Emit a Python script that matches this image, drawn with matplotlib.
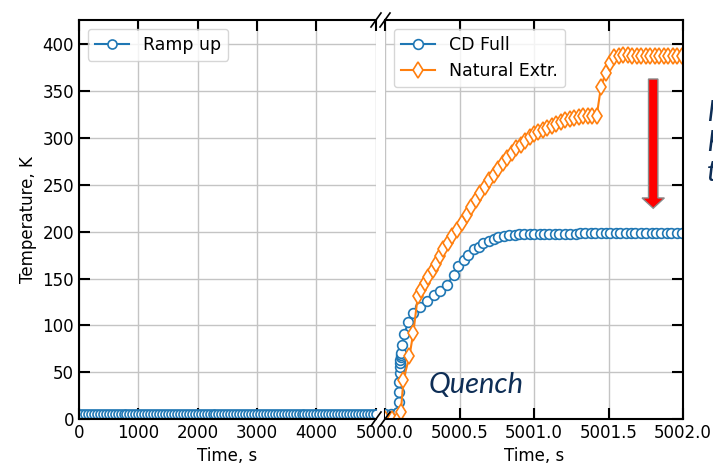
import numpy as np
import matplotlib
matplotlib.use('Agg')
import matplotlib.pyplot as plt
from matplotlib.patches import FancyArrow

# ramp up phase, temperature stays at the operating level
ramp_time = list(range(0, 5001, 50))
ramp_temp = [5.0] * len(ramp_time)

# quench phase, CD full discharge
cd_time = [5000.00, 5000.04, 5000.08, 5000.090, 5000.092, 5000.094, 5000.096, 5000.098,
           5000.100, 5000.102, 5000.104, 5000.106, 5000.108, 5000.110, 5000.115,
           5000.13, 5000.157, 5000.19, 5000.236, 5000.28, 5000.326, 5000.37, 5000.415,
           5000.46, 5000.49, 5000.53, 5000.56, 5000.595, 5000.63, 5000.66, 5000.70,
           5000.73, 5000.76, 5000.80, 5000.83, 5000.87, 5000.90, 5000.93, 5000.97,
           5001.00, 5001.04, 5001.07, 5001.10, 5001.14, 5001.17, 5001.21, 5001.24,
           5001.28, 5001.31, 5001.34, 5001.38, 5001.41, 5001.45, 5001.48, 5001.51,
           5001.55, 5001.58, 5001.62, 5001.65, 5001.68, 5001.72, 5001.75, 5001.79,
           5001.82, 5001.85, 5001.89, 5001.92, 5001.96, 5001.99]
cd_temp = [5, 5, 6, 7, 18, 29, 40, 49,
           56, 60, 63, 66, 68, 70, 79,
           91, 104, 113, 120, 126, 132, 137, 143,
           154, 163, 170, 175, 181, 184, 188, 190,
           192, 194, 195, 196, 196, 197, 197, 197,
           197, 197, 197, 197, 197, 197, 198, 198,
           198, 199, 199, 199, 199, 199, 199, 199,
           199, 199, 199, 199, 199, 199, 199, 199,
           199, 199, 199, 199, 199, 199]

# quench phase, natural extraction
nat_time = [5000.00, 5000.05, 5000.09, 5000.106, 5000.124, 5000.164, 5000.19,
            5000.22, 5000.24, 5000.27, 5000.29, 5000.32, 5000.34, 5000.37, 5000.39,
            5000.42, 5000.45, 5000.48, 5000.52, 5000.55, 5000.58, 5000.61, 5000.64,
            5000.67, 5000.70, 5000.73, 5000.76, 5000.79, 5000.82, 5000.85, 5000.88,
            5000.91, 5000.94, 5000.97, 5001.00, 5001.03, 5001.06, 5001.09, 5001.12,
            5001.15, 5001.18, 5001.21, 5001.24, 5001.27, 5001.30, 5001.33, 5001.36,
            5001.39, 5001.42, 5001.45, 5001.48, 5001.51, 5001.54, 5001.57, 5001.60,
            5001.63, 5001.66, 5001.69, 5001.72, 5001.75, 5001.78, 5001.81, 5001.84,
            5001.87, 5001.90, 5001.93, 5001.96, 5001.99]
nat_temp = [0, 0, 0, 7, 42, 67, 92,
            131, 138, 145, 152, 159, 166, 174, 181,
            188, 195, 202, 209, 218, 226, 234, 241,
            248, 255, 261, 267, 273, 279, 284, 289,
            293, 297, 301, 304, 306, 309, 311, 313,
            315, 317, 319, 320, 321, 322, 323, 324,
            324, 323, 355, 369, 380, 386, 388, 389,
            389, 388, 388, 388, 388, 388, 388, 388,
            388, 388, 388, 388, 388]

blue = '#1f77b4'
orange = '#ff7f0e'
navy = '#0e2e56'

plt.rcParams['font.size'] = 12

fig = plt.figure(figsize=(7.13, 4.67), dpi=100)
W, H = 713.0, 467.0
bottom, top = 419.0, 20.0
ax1 = fig.add_axes([79 / W, 1 - bottom / H, (376 - 79) / W, (bottom - top) / H])
ax2 = fig.add_axes([385 / W, 1 - bottom / H, (683 - 385) / W, (bottom - top) / H])

mk = dict(markerfacecolor='white', markeredgewidth=1.2, linewidth=1.5)
ax1.plot(ramp_time, ramp_temp, 'o-', color=blue, markersize=6.5, label='Ramp up', **mk)
ax2.plot(cd_time, cd_temp, 'o-', color=blue, markersize=7, label='CD Full', **mk)
ax2.plot(nat_time, nat_temp, 'd-', color=orange, markersize=8.5, label='Natural Extr.', **mk)

ax1.set_xlim(0, 5005)
ax2.set_xlim(5000.0, 5002.0)
for ax in (ax1, ax2):
    ax.set_ylim(0, 426)
    ax.set_yticks(range(0, 401, 50))
    ax.grid(True, color='#c4c4c4', linewidth=1)
    ax.set_xlabel('Time, s')
    for s in ax.spines.values():
        s.set_linewidth(1.5)
    ax.tick_params(direction='in', length=8, width=1.5, top=True)
    ax.legend(loc='upper left', fontsize=12.5, edgecolor='#cccccc')

# the 5000 label on the left part is covered by the 5000.0 label on the right part
ax1.set_xticks(range(0, 5001, 1000))
ax1.set_xticklabels(['0', '1000', '2000', '3000', '4000', ''])
ax1.spines['right'].set_visible(False)
ax1.tick_params(right=False)
ax1.set_ylabel('Temperature, K')

ax2.set_xticks([5000.0, 5000.5, 5001.0, 5001.5, 5002.0])
ax2.xaxis.set_major_formatter(matplotlib.ticker.FormatStrFormatter('%.1f'))
ax2.spines['left'].set_visible(False)
ax2.tick_params(left=False, right=True, labelleft=False)

# break marks between the two time ranges
kw = dict(color='black', linewidth=1.2, clip_on=False)
dx1, dy = 5 / 297, 7 / 399
ax1.plot([1 - dx1, 1 + dx1], [-dy, dy], transform=ax1.transAxes, **kw)
ax1.plot([1 - dx1, 1 + dx1], [1 - dy, 1 + dy], transform=ax1.transAxes, **kw)
dx2 = 5 / 298
ax2.plot([-dx2, dx2], [-dy, dy], transform=ax2.transAxes, **kw)
ax2.plot([-dx2, dx2], [1 - dy, 1 + dy], transform=ax2.transAxes, **kw)

# red arrow showing the temperature drop
arrow = FancyArrow(5001.80, 363, 0, 225 - 363, width=0.063, head_width=0.15,
                   head_length=11, length_includes_head=True,
                   facecolor='red', edgecolor='#8a8a8a', linewidth=1, zorder=5)
ax2.add_patch(arrow)

ax2.text(5000.29, 36, 'Quench', fontsize=21, style='italic', family='Lato',
         color=navy, va='center', ha='left')
fig.text(707 / W, 1 - 143 / H, 'lower\nhot-spot\ntemperature', fontsize=21,
         style='italic', family='Lato', color=navy, va='center', ha='left',
         linespacing=1.2)

fig.savefig('out.png', dpi=100)
